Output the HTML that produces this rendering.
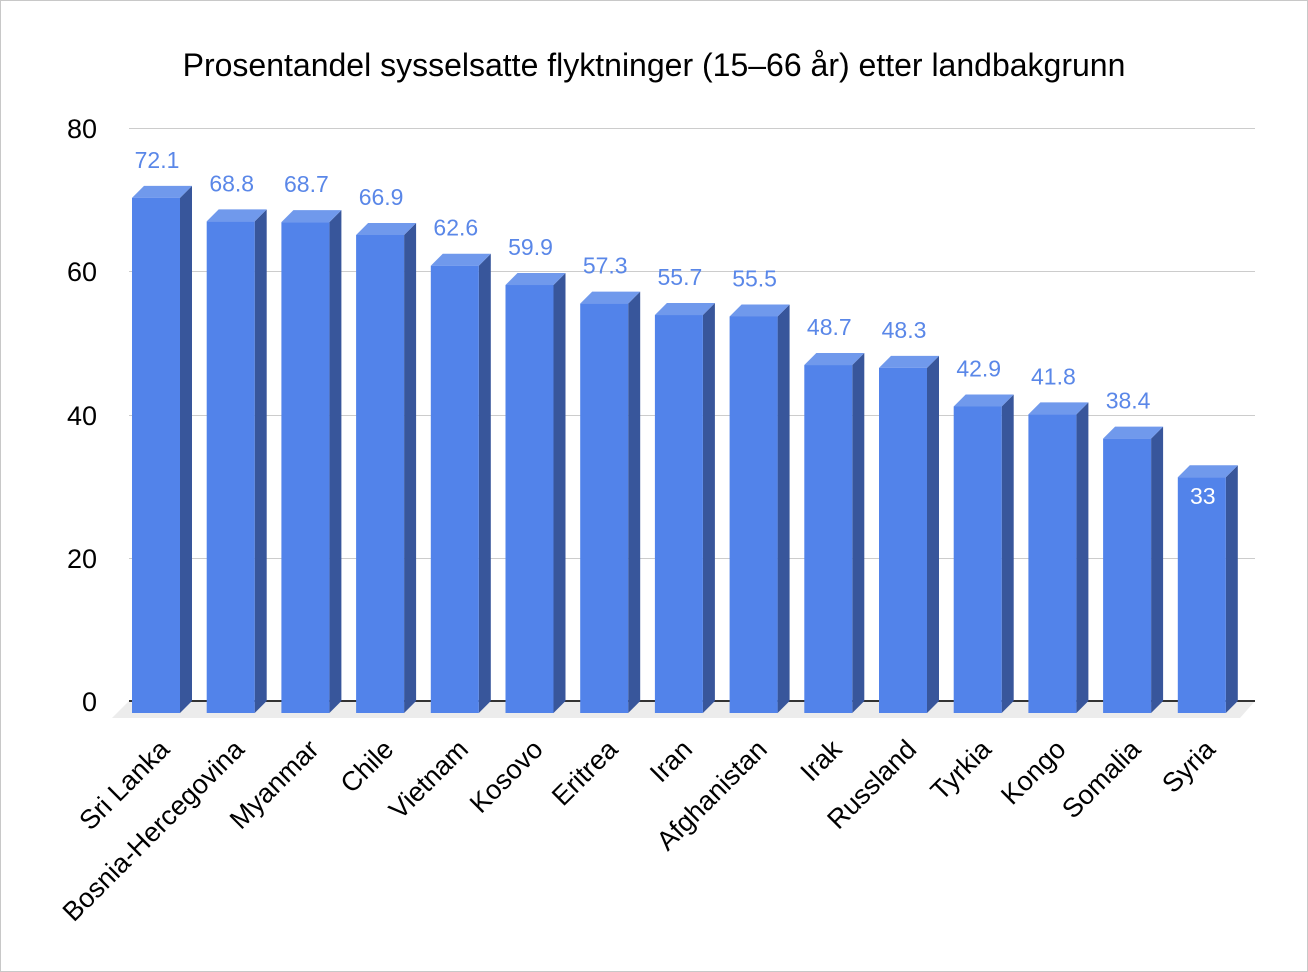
<!DOCTYPE html>
<html><head><meta charset="utf-8"><style>
html,body{margin:0;padding:0;background:#fff}
svg{display:block}
text{font-family:"Liberation Sans",sans-serif}
</style></head><body>
<svg id="s" width="1308" height="972" xmlns="http://www.w3.org/2000/svg">
<rect x="0.5" y="0.5" width="1307" height="971" fill="#fff" stroke="#c8c8c8"/>
<text x="654" y="76" font-size="32" text-anchor="middle" fill="#000">Prosentandel sysselsatte flyktninger (15–66 år) etter landbakgrunn</text>
<g stroke="#cccccc" stroke-width="1">
<line x1="129" y1="128.5" x2="1255" y2="128.5"/>
<line x1="129" y1="271.5" x2="1255" y2="271.5"/>
<line x1="129" y1="415.5" x2="1255" y2="415.5"/>
<line x1="129" y1="558.5" x2="1255" y2="558.5"/>
</g>
<polygon points="129,701 1255,701 1240,718 112,718" fill="#ececec"/>
<line x1="129" y1="701" x2="1255" y2="701" stroke="#333" stroke-width="2"/>
<g font-size="27" fill="#000" text-anchor="end">
<text x="97" y="138">80</text><text x="97" y="281">60</text><text x="97" y="425">40</text><text x="97" y="568">20</text><text x="97" y="711">0</text>
</g>
<g id="bars"></g>
</svg>
<script>
var d=[["Sri Lanka",72.1],["Bosnia-Hercegovina",68.8],["Myanmar",68.7],["Chile",66.9],["Vietnam",62.6],["Kosovo",59.9],["Eritrea",57.3],["Iran",55.7],["Afghanistan",55.5],["Irak",48.7],["Russland",48.3],["Tyrkia",42.9],["Kongo",41.8],["Somalia",38.4],["Syria",33]];
var g=document.getElementById('bars'),h='';
d.forEach(function(e,i){
var x=132+i*74.7,w=48,b=713,t=b-e[1]*7.145,dx=12,dy=12;
h+='<polygon points="'+(x+w)+','+t+' '+(x+w+dx)+','+(t-dy)+' '+(x+w+dx)+','+(b-dy)+' '+(x+w)+','+b+'" fill="#38569b"/>';
h+='<polygon points="'+x+','+t+' '+(x+dx)+','+(t-dy)+' '+(x+w+dx)+','+(t-dy)+' '+(x+w)+','+t+'" fill="#7099ec"/>';
h+='<rect x="'+x+'" y="'+t+'" width="'+w+'" height="'+(b-t)+'" fill="#5283ea"/>';
var cx=x+w/2+1;
if(e[1]<35) h+='<text x="'+cx+'" y="'+(t+27)+'" font-size="23" text-anchor="middle" fill="#fff">'+e[1]+'</text>';
else h+='<text x="'+cx+'" y="'+(t-30)+'" font-size="23" text-anchor="middle" fill="#5a87e8">'+e[1]+'</text>';
var lx=x+w/2+15,ly=751;
h+='<text x="'+lx+'" y="'+ly+'" font-size="27" text-anchor="end" fill="#000" transform="rotate(-45 '+lx+' '+ly+')">'+e[0]+'</text>';
});
g.innerHTML=h;
</script>
</body></html>
